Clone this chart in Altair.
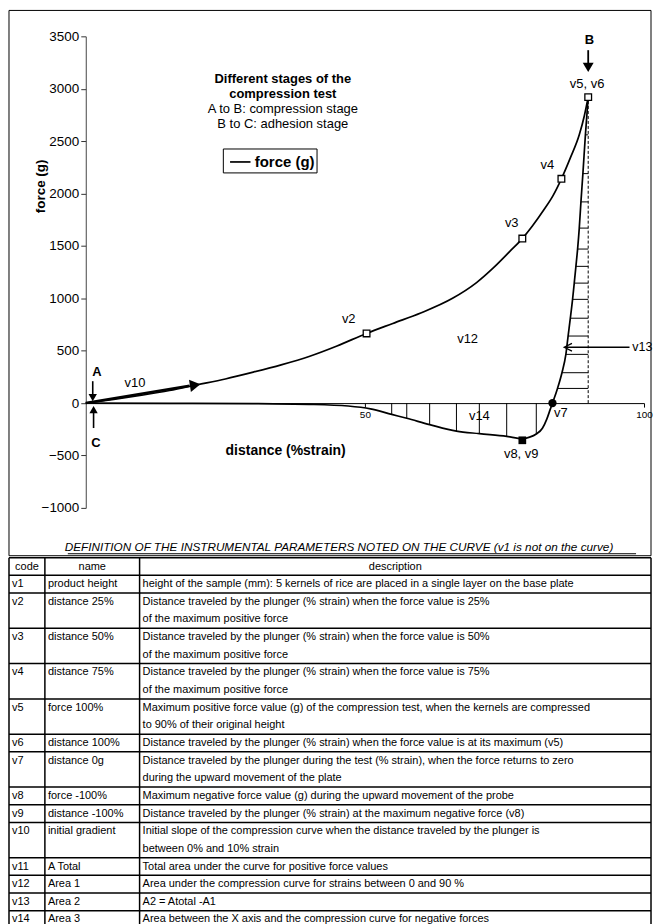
import altair as alt
import pandas as pd

FONT = "Liberation Sans"

# ---------------- curve data ----------------
# compression stage A -> B  (distance % strain, force g)
comp_x = [0, 5, 10, 15, 20, 25, 30, 35, 40, 45, 50.3, 55, 60, 65.7, 70, 73, 76, 78.2, 80, 82, 83.7, 85.2, 86.8, 88.4, 89.3, 90]
comp_f = [0, 35, 75, 120, 175, 230, 295, 365, 445, 545, 665, 760, 860, 1000, 1150, 1290, 1450, 1570, 1690, 1840, 1980, 2140, 2340, 2560, 2740, 2920]
# adhesion stage B -> C
adh_x = [90, 89.5, 89.05, 88.7, 88.4, 88.1, 87.8, 87.5, 87.2, 86.8, 86.4, 86.0, 85.3, 84.5, 83.6, 83.2, 82.6, 81.8, 80.7, 79.5, 78.2, 75.4, 70.5, 66.4, 61.6, 57.5, 54.8, 51, 47, 40, 30, 15, 0]
adh_f = [2920, 2560, 2190, 1920, 1670, 1470, 1305, 1145, 990, 810, 640, 465, 290, 140, 0, -60, -150, -240, -295, -325, -340, -318, -292, -268, -205, -145, -108, -55, -28, -12, -5, -2, 0]

# marked points
open_sq_x = [50.3, 78.2, 85.2, 90.0]      # v2, v3, v4, v5/v6
open_sq_f = [665, 1570, 2140, 2920]
v7_x, v7_f = [83.6], [0]
v8_x, v8_f = [78.2], [-355]

# hatching of the areas v13 and v14
v13_hatch_f = [2560, 2190, 1920, 1670, 1470, 1305, 1145, 990, 810, 640, 465, 290, 140]
v13_hatch_x = [89.5, 89.05, 88.7, 88.4, 88.1, 87.8, 87.5, 87.2, 86.8, 86.4, 86.0, 85.3, 84.5]
v14_hatch_x = [80.7, 75.4, 70.5, 66.4, 61.6, 57.5, 54.8]
v14_hatch_f = [-295, -318, -292, -268, -205, -145, -108]

y_ticks = [-1000, -500, 0, 500, 1000, 1500, 2000, 2500, 3000, 3500]
x_ticks = [50, 100]

# annotation labels
lab_text = ["v2", "v3", "v4", "v5, v6", "v12", "v14", "v7", "v8, v9", "v10"]
lab_x = [47.1, 76.3, 82.7, 89.8, 68.4, 70.5, 85.1, 78.0, 8.8]
lab_f = [800, 1714, 2276, 3048, 610, -124, -95, -486, 190]
bold_text = ["A", "B", "C"]
bold_x = [2.0, 90.2, 1.8]
bold_f = [300, 3467, -381]
cap_text = ["Different stages of the", "compression test", "A to B: compression stage", "B to C: adhesion stage"]
cap_bold = [True, True, False, False]
cap_x = [35.3, 35.3, 35.3, 35.3]
cap_f = [3096, 2953, 2810, 2668]

# arrows: shafts and heads
arr_x = [0, 1.25, 1.4, 90, 85.9]
arr_x2 = [18.6, 1.25, 1.4, 90, 97.4]
arr_f = [0, 209, -238, 3368, 533]
arr_f2 = [166, 76, -76, 3235, 533]
arr_w = [2.6, 1.6, 1.6, 1.8, 1.3]
head_x = [19.6, 1.25, 1.4, 90]
head_f = [172, 53, -63, 3204]
head_shape = ["triangle-right", "triangle-down", "triangle-up", "triangle-down"]
head_size = [150, 70, 70, 120]
head_angle = [351, 0, 0, 0]

# ---------------- table ----------------
t_codes = ["v1", "v2", "v3", "v4", "v5", "v6", "v7", "v8", "v9", "v10", "v11", "v12", "v13", "v14"]
t_names = ["product height", "distance 25%", "distance 50%", "distance 75%", "force 100%", "distance 100%",
           "distance 0g", "force -100%", "distance -100%", "\u00a0initial gradient", "A Total", "Area 1", "Area 2", "Area 3"]
t_desc = [
    ["height of the sample (mm): 5 kernels of rice are placed in a single layer on the base plate"],
    ["Distance traveled by the plunger (% strain) when the force value is 25%", "of the maximum positive force"],
    ["Distance traveled by the plunger (% strain) when the force value is 50%", "of the maximum positive force"],
    ["Distance traveled by the plunger (% strain) when the force value is 75%", "of the maximum positive force"],
    ["Maximum positive force value (g) of the compression test, when the kernels are compressed", "to 90% of their original height"],
    ["Distance traveled by the plunger (% strain) when the force value is at its maximum (v5)"],
    ["Distance traveled by the plunger during the test (% strain), when the force returns to zero", "\u00a0during the upward movement of the plate"],
    ["Maximum negative force value (g) during the upward movement of the probe"],
    ["Distance traveled by the plunger (% strain) at the maximum negative force  (v8)"],
    ["Initial slope of the compression curve when the distance traveled by the plunger is", "\u00a0between 0% and 10% strain"],
    ["Total area under the curve for positive force values"],
    ["Area under the compression curve for strains between 0 and 90 %"],
    ["A2 = Atotal -A1"],
    ["Area between the X axis and  the compression curve for negative forces"],
]
t_header = ["code", "name", "description"]
t_title = "DEFINITION OF THE INSTRUMENTAL PARAMETERS NOTED ON THE CURVE (v1 is not on the curve)"

# ---------------- layout constants ----------------
W, H = 560, 473
LEFT = 77            # space from frame to the y axis
TW = 644             # full width of frame / table
LINE = 17.7
col_edges = [0, 36, 131, TW]

X = alt.Scale(domain=[0, 100], nice=False, zero=False)
Y = alt.Scale(domain=[-1000, 3500], nice=False, zero=False)

one = pd.DataFrame({"a": [0]})

x_axis = alt.Axis(values=x_ticks, orient="bottom", offset=-105.1, grid=False,
                  title="distance (%strain)", titleX=200, titleY=48, titleAlign="center",
                  titleBaseline="middle", titleFontWeight="bold", titleFontSize=14, titleFont=FONT,
                  titleColor="black", labelFont=FONT, labelFontSize=10, labelColor="black",
                  labelFlush=False, labelOverlap=False,
                  tickSize=4, tickColor="black", domainColor="black", labelPadding=2, format="d")
y_axis = alt.Axis(values=y_ticks, grid=False, title="force (g)", titleAngle=270, titleX=-45, titleY=150,
                  titleAlign="center", titleBaseline="middle", titleFontWeight="bold", titleFontSize=13.5,
                  titleFont=FONT, titleColor="black", labelFont=FONT, labelFontSize=13.5, labelColor="black",
                  labelFlush=False, labelOverlap=False,
                  tickSize=5, tickColor="#333", domainColor="#444", labelPadding=2, format="d")

def xs(field):
    return alt.X(field, scale=X)

def ys(field):
    return alt.Y(field, scale=Y)

# main curve (carries the axes and the legend); each stage is a smooth function of x
curve_df = pd.DataFrame({
    "x": comp_x + adh_x,
    "f": comp_f + adh_f,
    "stage": ["A-B"] * len(comp_x) + ["B-C"] * len(adh_x),
    "series": ["force (g)"] * (len(comp_x) + len(adh_x)),
})
curve = alt.Chart(curve_df).mark_line(strokeWidth=1.7, interpolate="monotone").encode(
    x=alt.X("x:Q", scale=X, axis=x_axis),
    y=alt.Y("f:Q", scale=Y, axis=y_axis),
    detail="stage:N",
    color=alt.Color("series:N", scale=alt.Scale(range=["black"]),
                    legend=alt.Legend(orient="none", legendX=137.5, legendY=112.5, title=None,
                                      symbolType="stroke", symbolSize=420, symbolStrokeWidth=1.7,
                                      symbolOffset=4, strokeColor="black", fillColor="white", padding=2,
                                      labelFont=FONT, labelFontSize=15, labelFontWeight="bold",
                                      labelColor="black", labelOffset=3)))

# frame around the chart
frame = alt.Chart(one).mark_rect(filled=False, fill=None, stroke="black", strokeWidth=1).encode(
    x=alt.value(-LEFT), x2=alt.value(TW - LEFT), y=alt.value(-26), y2=alt.value(521))

def_title = alt.Chart(one).mark_text(text=t_title, font=FONT, fontSize=11.8, fontStyle="italic",
                                     align="center", baseline="middle", color="black").encode(
    x=alt.value(254), y=alt.value(512))
def_line = alt.Chart(one).mark_rule(color="black", strokeWidth=1).encode(
    x=alt.value(-18), x2=alt.value(552), y=alt.value(519))

# hatching
h13 = pd.DataFrame({"x": v13_hatch_x, "x2": [90] * len(v13_hatch_x), "f": v13_hatch_f})
hatch13 = alt.Chart(h13).mark_rule(color="black", strokeWidth=1).encode(
    x=xs("x:Q"), x2="x2:Q", y=ys("f:Q"))
h14 = pd.DataFrame({"x": v14_hatch_x, "f": v14_hatch_f, "f0": [0] * len(v14_hatch_x)})
hatch14 = alt.Chart(h14).mark_rule(color="black", strokeWidth=1).encode(
    x=xs("x:Q"), y=ys("f0:Q"), y2="f:Q")
vdash = alt.Chart(pd.DataFrame({"x": [open_sq_x[3]], "f": [0], "f2": [open_sq_f[3]]})).mark_rule(
    color="black", strokeWidth=1, strokeDash=[3, 2]).encode(
    x=xs("x:Q"), y=ys("f:Q"), y2="f2:Q")

# markers
open_sq = alt.Chart(pd.DataFrame({"x": open_sq_x, "f": open_sq_f})).mark_point(
    shape="square", filled=True, fill="white", stroke="black", strokeWidth=1.3, size=45, opacity=1).encode(
    x=xs("x:Q"), y=ys("f:Q"))
v8_pt = alt.Chart(pd.DataFrame({"x": v8_x, "f": v8_f})).mark_point(
    shape="square", filled=True, color="black", size=60, opacity=1).encode(
    x=xs("x:Q"), y=ys("f:Q"))
v7_pt = alt.Chart(pd.DataFrame({"x": v7_x, "f": v7_f})).mark_point(
    shape="circle", filled=True, color="black", size=70, opacity=1).encode(
    x=xs("x:Q"), y=ys("f:Q"))

# arrows
arr = alt.Chart(pd.DataFrame({"x": arr_x, "x2": arr_x2, "f": arr_f, "f2": arr_f2, "w": arr_w})).mark_rule(
    color="black").encode(
    x=xs("x:Q"), x2="x2:Q", y=ys("f:Q"), y2="f2:Q",
    strokeWidth=alt.StrokeWidth("w:Q", scale=None))
heads = alt.Chart(pd.DataFrame({"x": head_x, "f": head_f, "shape": head_shape, "s": head_size,
                                "a": head_angle})).mark_point(filled=True, color="black", opacity=1).encode(
    x=xs("x:Q"), y=ys("f:Q"),
    shape=alt.Shape("shape:N", scale=None), size=alt.Size("s:Q", scale=None),
    angle=alt.Angle("a:Q", scale=None))
chevron = alt.Chart(pd.DataFrame({"x": [86.4], "f": [533]})).mark_point(
    shape="M1,-1L-1,0L1,1", filled=False, stroke="black", strokeWidth=1.3, size=60, opacity=1).encode(
    x=xs("x:Q"), y=ys("f:Q"))

# text labels
labels = alt.Chart(pd.DataFrame({"x": lab_x, "f": lab_f, "t": lab_text})).mark_text(
    font=FONT, fontSize=13, color="black", align="center", baseline="middle").encode(
    x=xs("x:Q"), y=ys("f:Q"), text="t:N")
v13_lab = alt.Chart(pd.DataFrame({"x": [97.9], "f": [533], "t": ["v13"]})).mark_text(
    font=FONT, fontSize=12.5, color="black", align="left", baseline="middle").encode(
    x=xs("x:Q"), y=ys("f:Q"), text="t:N")
bold_lab = alt.Chart(pd.DataFrame({"x": bold_x, "f": bold_f, "t": bold_text})).mark_text(
    font=FONT, fontSize=13, fontWeight="bold", color="black", align="center", baseline="middle").encode(
    x=xs("x:Q"), y=ys("f:Q"), text="t:N")
cap_df = pd.DataFrame({"x": cap_x, "f": cap_f, "t": cap_text, "b": cap_bold})
cap_b = alt.Chart(cap_df[cap_df.b]).mark_text(
    font=FONT, fontSize=13, fontWeight="bold", color="black", align="center", baseline="middle").encode(
    x=xs("x:Q"), y=ys("f:Q"), text="t:N")
cap_r = alt.Chart(cap_df[~cap_df.b]).mark_text(
    font=FONT, fontSize=13, color="black", align="center", baseline="middle").encode(
    x=xs("x:Q"), y=ys("f:Q"), text="t:N")

top = alt.layer(curve, frame, def_title, def_line, hatch13, hatch14, vdash, arr, heads, chevron,
                open_sq, v8_pt, v7_pt, labels, v13_lab, bold_lab, cap_b, cap_r).properties(width=W, height=H)

# ---------------- table chart ----------------
rows = []
bounds = [0, 1]
line = 1
for code, name, desc in zip(t_codes, t_names, t_desc):
    rows.append({"tx": 3, "ty": line + 0.5, "t": code})
    rows.append({"tx": 39, "ty": line + 0.5, "t": name})
    for k, d in enumerate(desc):
        rows.append({"tx": 134, "ty": line + k + 0.5, "t": d})
    line += len(desc)
    bounds.append(line)
n_lines = line
# the table spans the full frame width; its plot origin is aligned with the chart's y axis
TX = alt.Scale(domain=[LEFT, TW], nice=False, zero=False)
TY = alt.Scale(domain=[0, n_lines], nice=False, zero=False, reverse=True)
TH = n_lines * LINE

hdr = pd.DataFrame({"tx": [(col_edges[i] + col_edges[i + 1]) / 2 for i in range(3)],
                    "ty": [0.5] * 3, "t": t_header})
t_hdr = alt.Chart(hdr).mark_text(font=FONT, fontSize=11, color="black", align="center", baseline="middle").encode(
    x=alt.X("tx:Q", scale=TX, axis=None), y=alt.Y("ty:Q", scale=TY, axis=None), text="t:N")
t_body = alt.Chart(pd.DataFrame(rows)).mark_text(font=FONT, fontSize=11, color="black", align="left",
                                                  baseline="middle").encode(
    x=alt.X("tx:Q", scale=TX, axis=None), y=alt.Y("ty:Q", scale=TY, axis=None), text="t:N")
hl = pd.DataFrame({"x": [0] * len(bounds), "x2": [TW] * len(bounds), "y": bounds})
t_h = alt.Chart(hl).mark_rule(color="black", strokeWidth=1.5).encode(
    x=alt.X("x:Q", scale=TX, axis=None), x2="x2:Q", y=alt.Y("y:Q", scale=TY, axis=None))
vl = pd.DataFrame({"x": col_edges, "y": [0] * 4, "y2": [n_lines] * 4})
t_v = alt.Chart(vl).mark_rule(color="black", strokeWidth=1.5).encode(
    x=alt.X("x:Q", scale=TX, axis=None), y=alt.Y("y:Q", scale=TY, axis=None), y2="y2:Q")

table = alt.layer(t_h, t_v, t_hdr, t_body).properties(width=TW - LEFT, height=TH)

chart = alt.vconcat(top, table, spacing=0, padding=0).configure_view(stroke=None)
chart.save("out.html", embed_options={"renderer": "svg", "actions": False})
